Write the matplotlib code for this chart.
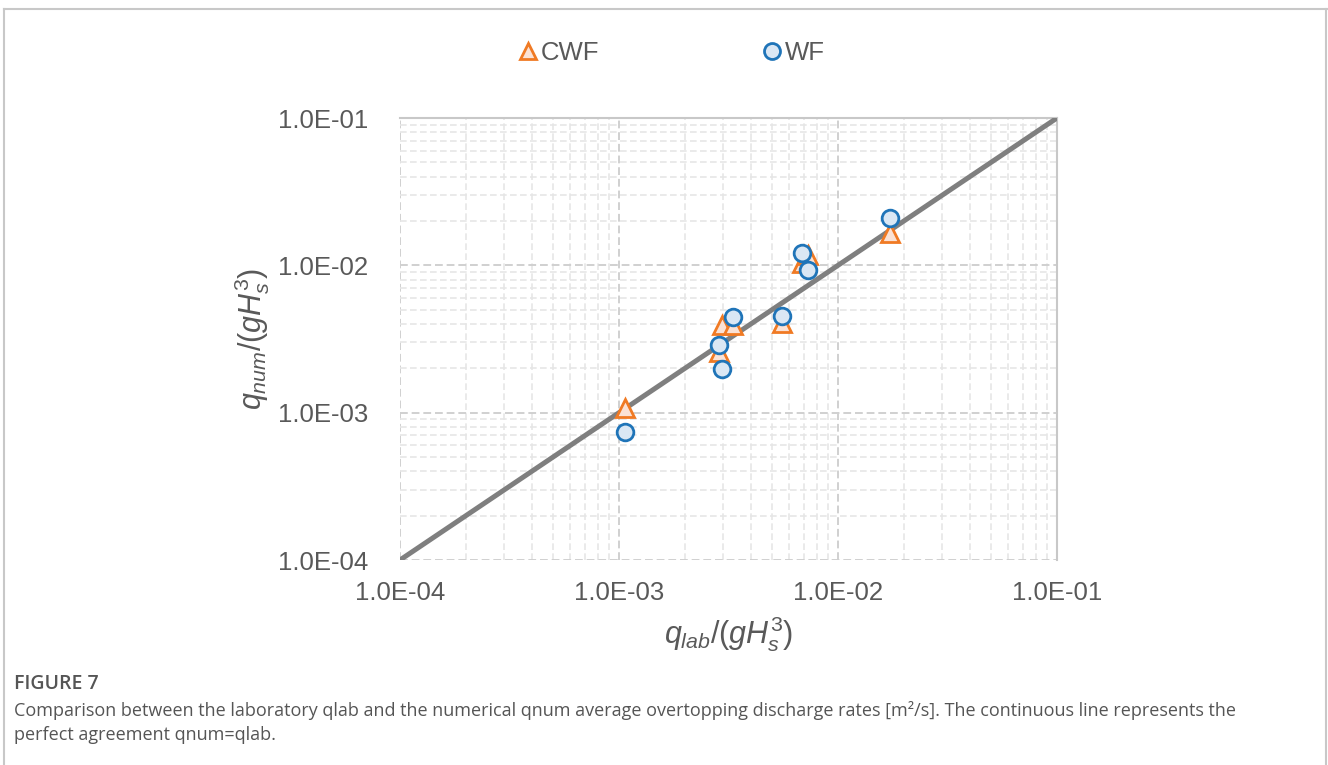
import matplotlib
matplotlib.use("Agg")
import matplotlib.pyplot as plt
from matplotlib.lines import Line2D
from matplotlib.ticker import LogLocator, NullFormatter

# ---- data ----
cwf_x = [1.06e-3, 2.95e-3, 3.32e-3, 2.85e-3, 5.55e-3, 6.86e-3, 7.30e-3, 1.73e-2]
cwf_y = [1.07e-3, 3.93e-3, 3.93e-3, 2.58e-3, 4.06e-3, 1.04e-2, 1.17e-2, 1.66e-2]
wf_x = [1.06e-3, 3.32e-3, 2.85e-3, 2.95e-3, 5.55e-3, 6.86e-3, 7.30e-3, 1.73e-2]
wf_y = [7.38e-4, 4.46e-3, 2.88e-3, 1.98e-3, 4.53e-3, 1.21e-2, 9.30e-3, 2.10e-2]
line_xy = [1e-4, 1e-1]
tick_vals = [1e-4, 1e-3, 1e-2, 1e-1]
tick_labels = ["1.0E-04", "1.0E-03", "1.0E-02", "1.0E-01"]
series_names = ["CWF", "WF"]

plt.rcParams['font.family'] = ['Liberation Sans', 'DejaVu Sans']
plt.rcParams['mathtext.fontset'] = 'custom'
plt.rcParams['mathtext.it'] = 'Liberation Sans:italic'
plt.rcParams['mathtext.rm'] = 'Liberation Sans'

W, H = 1328, 765
fig = plt.figure(figsize=(W / 100, H / 100), dpi=100)
ax = fig.add_axes([400 / W, 1 - 560 / H, (1057 - 400) / W, (560 - 118) / H])

text_col = "#595959"
orange = "#F07A24"
orange_face = "#FBE2D5"
blue = "#1F74B8"
blue_face = "#DAE7F4"

ax.plot(line_xy, line_xy, color="#7F7F7F", lw=3.6, solid_capstyle="round", zorder=3)
ax.plot(cwf_x, cwf_y, ls="none", marker="^", ms=13, mec=orange, mfc=orange_face, mew=2.0, zorder=4)
ax.plot(wf_x, wf_y, ls="none", marker="o", ms=12, mec=blue, mfc=blue_face, mew=2.0, zorder=5)

ax.set_xscale("log")
ax.set_yscale("log")
ax.set_xlim(1e-4, 1e-1)
ax.set_ylim(1e-4, 1e-1)

for axis in (ax.xaxis, ax.yaxis):
    axis.set_minor_locator(LogLocator(base=10, subs=range(2, 10), numticks=20))
    axis.set_minor_formatter(NullFormatter())
ax.set_xticks(tick_vals)
ax.set_xticklabels(tick_labels)
ax.set_yticks(tick_vals)
ax.set_yticklabels(tick_labels)

ax.grid(True, which="major", color="#D0D0D0", ls=(0, (4, 2)), lw=1.4, zorder=0)
ax.grid(True, which="minor", color="#E6E6E6", ls=(0, (4, 2)), lw=1.2, zorder=0)
ax.set_axisbelow(True)

ax.tick_params(which="both", length=0)
ax.tick_params(axis="x", labelsize=18.5, labelcolor=text_col, pad=15)
ax.tick_params(axis="y", labelsize=18.5, labelcolor=text_col, pad=23)

for s in ("left", "bottom"):
    ax.spines[s].set_visible(False)
for s in ("top", "right"):
    ax.spines[s].set_color("#C8C8C8")
    ax.spines[s].set_linewidth(1.5)

ax.set_xlabel(r"$q_{lab}/(gH_s^{\mathrm{3}})$", fontsize=22, color=text_col, labelpad=7)
ax.set_ylabel(r"$q_{num}/(gH_s^{\mathrm{3}})$", fontsize=22, color=text_col, labelpad=4)

# legend
handles = [
    Line2D([], [], ls="none", marker="^", ms=12, mec=orange, mfc=orange_face, mew=2.0),
    Line2D([], [], ls="none", marker="o", ms=11.5, mec=blue, mfc=blue_face, mew=2.0),
]
fig.legend(handles, series_names, loc="center", bbox_to_anchor=(672 / W, 1 - 53 / H),
           ncol=2, frameon=False, fontsize=18.5, handlelength=0.7, handletextpad=0.15,
           columnspacing=6.4, labelcolor=text_col)

# outer frame
frame_col = "#C8C8C8"
fig.add_artist(Line2D([4 / W, 4 / W], [0, 1 - 9 / H], transform=fig.transFigure, color=frame_col, lw=1.5))
fig.add_artist(Line2D([4 / W, 1], [1 - 9 / H, 1 - 9 / H], transform=fig.transFigure, color=frame_col, lw=1.5))
fig.add_artist(Line2D([1326 / W, 1326 / W], [0, 1 - 9 / H], transform=fig.transFigure, color=frame_col, lw=1.5))

# caption
cap_col = "#555555"
cap_fam = ["Open Sans", "DejaVu Sans"]
fig.text(14 / W, 1 - 684 / H, "FIGURE 7", fontsize=14, color=cap_col, va="center",
         family=cap_fam, fontweight="semibold")
fig.text(14 / W, 1 - 711 / H,
         "Comparison between the laboratory qlab and the numerical qnum average overtopping discharge rates [m²/s]. The continuous line represents the",
         fontsize=13, color=cap_col, va="center", family=cap_fam)
fig.text(14 / W, 1 - 735 / H, "perfect agreement qnum=qlab.",
         fontsize=13, color=cap_col, va="center", family=cap_fam)

fig.savefig("out.png", dpi=100, facecolor="white")
